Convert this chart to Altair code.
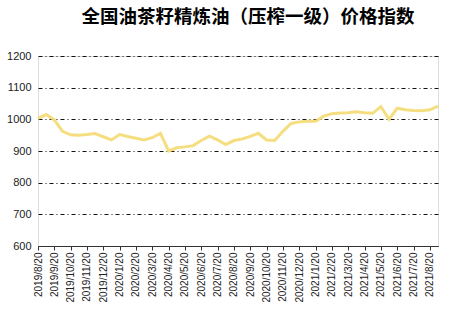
import altair as alt
import pandas as pd

title_text = "全国油茶籽精炼油（压榨一级）价格指数"

# semi-monthly observation dates (20th and following 5th)
dates = [
    "2019/8/20", "2019/9/5", "2019/9/20", "2019/10/5", "2019/10/20", "2019/11/5",
    "2019/11/20", "2019/12/5", "2019/12/20", "2020/1/5", "2020/1/20", "2020/2/5",
    "2020/2/20", "2020/3/5", "2020/3/20", "2020/4/5", "2020/4/20", "2020/5/5",
    "2020/5/20", "2020/6/5", "2020/6/20", "2020/7/5", "2020/7/20", "2020/8/5",
    "2020/8/20", "2020/9/5", "2020/9/20", "2020/10/5", "2020/10/20", "2020/11/5",
    "2020/11/20", "2020/12/5", "2020/12/20", "2021/1/5", "2021/1/20", "2021/2/5",
    "2021/2/20", "2021/3/5", "2021/3/20", "2021/4/5", "2021/4/20", "2021/5/5",
    "2021/5/20", "2021/6/5", "2021/6/20", "2021/7/5", "2021/7/20", "2021/8/5",
    "2021/8/20", "2021/9/5",
]

values = [
    1003, 1015, 998, 962, 951, 950, 952, 955, 945, 935,
    952, 946, 940, 935, 942, 956, 900, 910, 913, 917,
    933, 947, 935, 920, 933, 938, 946, 956, 935, 933,
    962, 987, 992, 994, 994, 1010, 1018, 1020, 1021, 1024,
    1021, 1019, 1040, 1000, 1035, 1030, 1028, 1027, 1030, 1042,
]

tick_labels = [
    "2019/8/20", "2019/9/20", "2019/10/20", "2019/11/20", "2019/12/20",
    "2020/1/20", "2020/2/20", "2020/3/20", "2020/4/20", "2020/5/20",
    "2020/6/20", "2020/7/20", "2020/8/20", "2020/9/20", "2020/10/20",
    "2020/11/20", "2020/12/20", "2021/1/20", "2021/2/20", "2021/3/20",
    "2021/4/20", "2021/5/20", "2021/6/20", "2021/7/20", "2021/8/20",
]

y_ticks = [600, 700, 800, 900, 1000, 1100, 1200]

df = pd.DataFrame({"date": dates, "value": values})

chart = (
    alt.Chart(df)
    .mark_line(color="#F4DA72", strokeWidth=3, opacity=0.9)
    .encode(
        x=alt.X(
            "date:O",
            sort=dates,
            scale=alt.Scale(type="point", padding=0),
            axis=alt.Axis(
                title=None,
                values=tick_labels,
                labelAngle=270,
                labelFont="Liberation Sans",
                labelFontSize=10,
                labelColor="#222222",
                labelPadding=2,
                tickSize=4,
                tickColor="#333333",
                domainColor="#333333",
                grid=False,
            ),
        ),
        y=alt.Y(
            "value:Q",
            scale=alt.Scale(domain=[600, 1200], nice=False, zero=False),
            axis=alt.Axis(
                title=None,
                values=y_ticks,
                format="d",
                domain=False,
                ticks=False,
                tickSize=0,
                labelPadding=7,
                labelFont="Liberation Sans",
                labelFontSize=11,
                labelColor="#222222",
                grid=True,
                gridColor="#111111",
                gridDash=[4, 3, 1, 3],
                gridWidth=1,
            ),
        ),
    )
    .properties(
        width=400,
        height=190,
        autosize=alt.AutoSizeParams(type="none"),
        padding={"left": 38, "top": 56, "right": 17, "bottom": 74},
        title=alt.TitleParams(
            text=title_text,
            font="Noto Sans CJK SC",
            fontSize=18.5,
            fontWeight="bold",
            color="#000000",
            anchor="middle",
            dx=10,
            offset=24,
        ),
    )
    .configure_view(stroke=None)
    .configure(background="white")
)

chart.save("out.html", embed_options={"renderer": "svg", "actions": False})
